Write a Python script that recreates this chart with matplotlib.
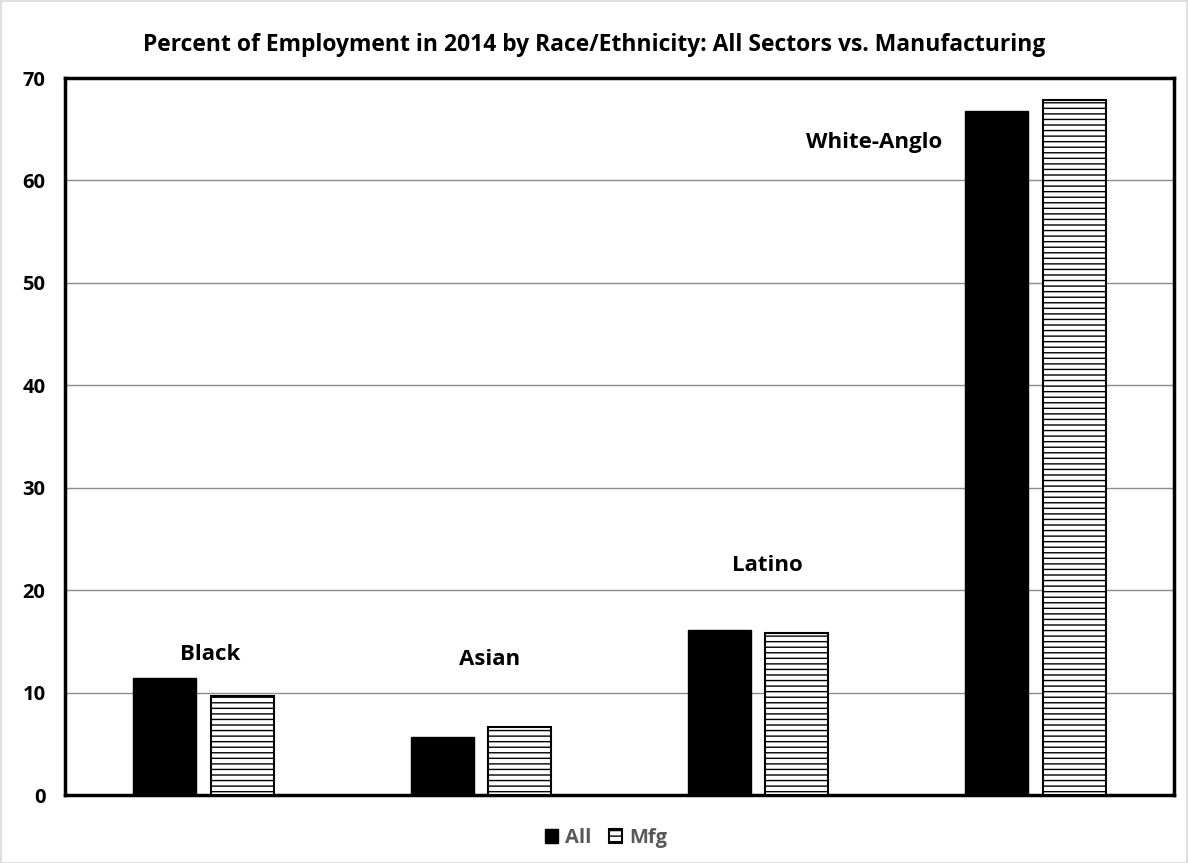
import matplotlib
matplotlib.use("Agg")
import matplotlib.pyplot as plt
import numpy as np
from matplotlib.patches import Rectangle

plt.rcParams['font.family'] = ['Open Sans', 'DejaVu Sans']
plt.rcParams['hatch.linewidth'] = 1.0

categories = ["Black", "Asian", "Latino", "White-Anglo"]
all_vals = [11.4, 5.7, 16.1, 66.8]
mfg_vals = [9.7, 6.6, 15.8, 67.9]
yticks = [0, 10, 20, 30, 40, 50, 60, 70]

fig = plt.figure(figsize=(11.88, 8.63), dpi=100)
ax = fig.add_axes([65/1188, 1-795/863, (1174-65)/1188, (795-78)/863])

x = np.arange(len(categories))
w = 0.227
off = 0.14
ax.bar(x - off, all_vals, w, color='black', edgecolor='black', zorder=3, label='All')
ax.bar(x + off, mfg_vals, w, color='white', edgecolor='black', hatch='---', linewidth=1.5, zorder=3, label='Mfg')

label_pos = [(0.023, 13.7), (1.03, 13.2), (2.035, 22.4), (2.42, 63.7)]
for cat, (lx, ly) in zip(categories, label_pos):
    ax.text(lx, ly, cat, ha='center', va='center', fontsize=16, fontweight='bold', color='black')

ax.set_xlim(-0.5, 3.5)
ax.set_ylim(0, 70)
ax.set_yticks(yticks)
ax.set_yticklabels([str(t) for t in yticks], fontsize=14.5, fontweight='bold')
ax.set_xticks([])
ax.tick_params(axis='y', length=0, pad=14)
ax.yaxis.grid(True, color='#8c8c8c', linewidth=1.0, zorder=0)
for s in ax.spines.values():
    s.set_linewidth(2.5)
    s.set_color('black')

fig.text(0.5, 1-45/863, "Percent of Employment in 2014 by Race/Ethnicity: All Sectors vs. Manufacturing",
         ha='center', va='center', fontsize=16.5, fontweight='bold')

leg = fig.legend(loc='center', bbox_to_anchor=(606/1188, 1-838/863), ncol=2, frameon=False,
                 handlelength=0.65, handleheight=0.65, handletextpad=0.35, columnspacing=0.9,
                 prop={'size': 14.5, 'weight': 'bold'})
for t in leg.get_texts():
    t.set_color('#595959')

fig.patches.append(Rectangle((0.5/1188, 0.5/863), 1-2/1188, 1-2/863, transform=fig.transFigure,
                             fill=False, edgecolor='#d9d9d9', linewidth=1.2))

fig.savefig("out.png", dpi=100)
